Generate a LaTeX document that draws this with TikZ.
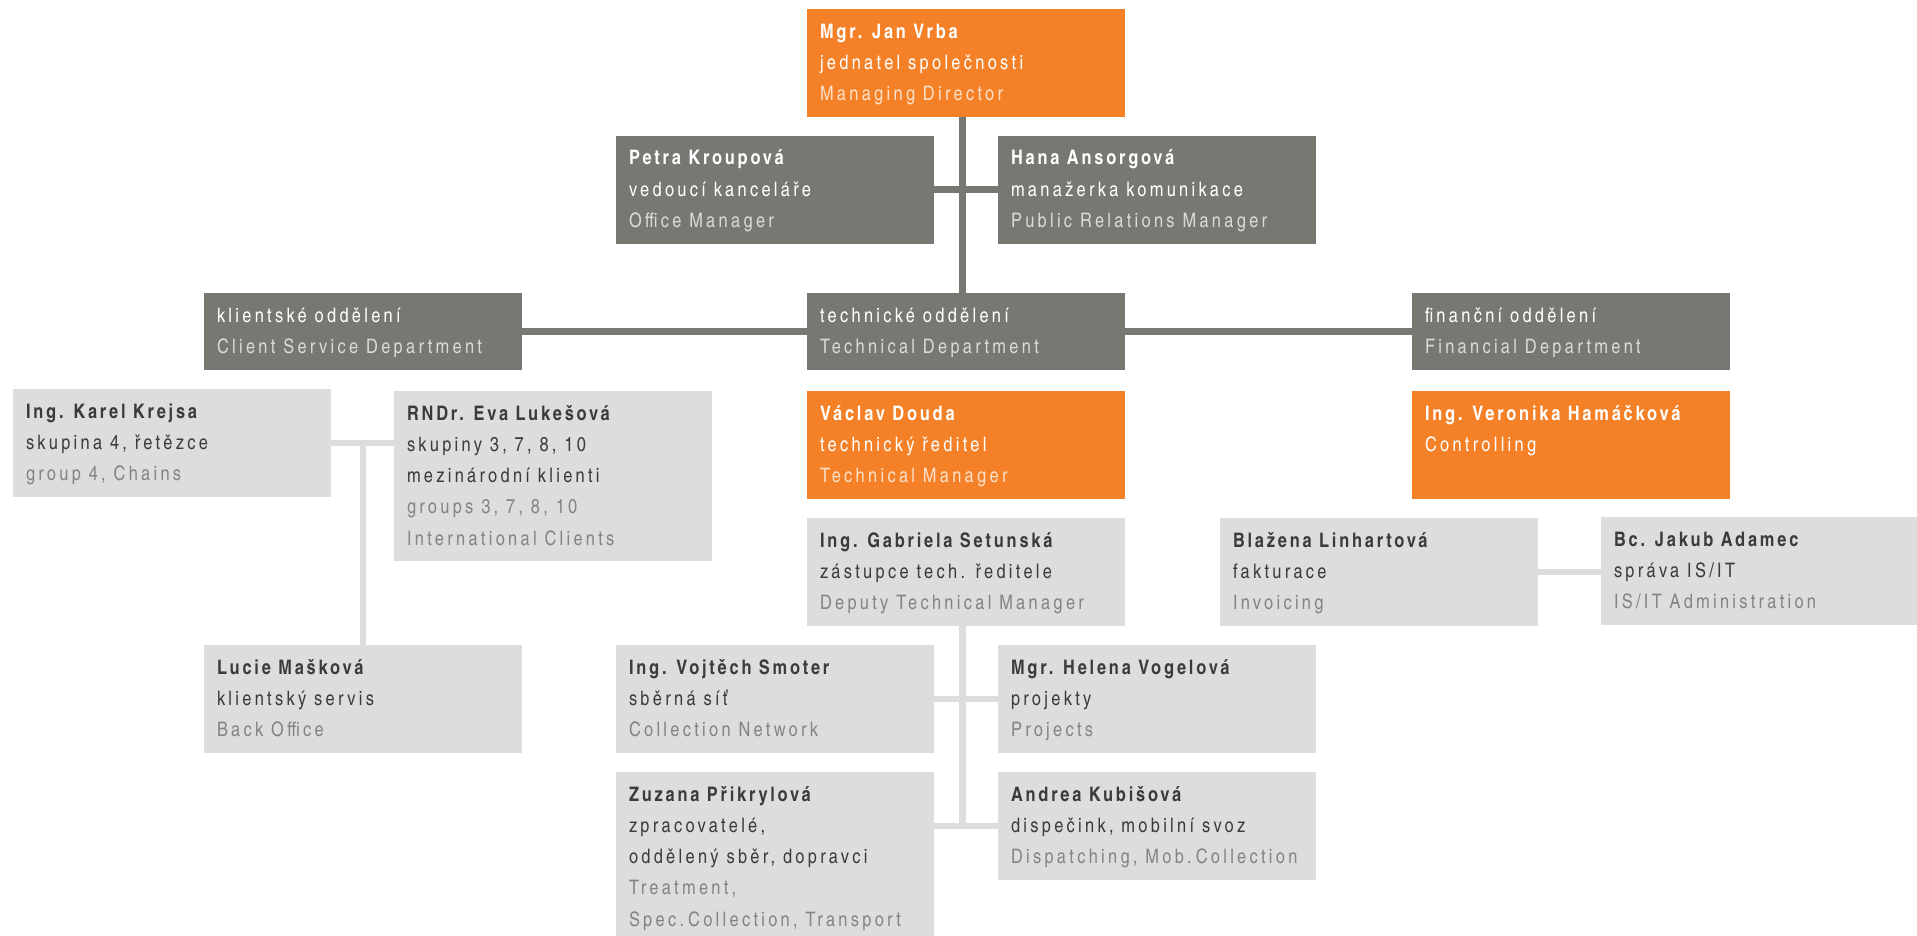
\documentclass[tikz,border=0pt]{standalone}
\usepackage{fontspec}
\setmainfont{texgyreheroscn}[Extension=.otf, UprightFont=*-regular, BoldFont=*-bold, UprightFeatures={LetterSpace=16.5}, BoldFeatures={LetterSpace=14}]
\usetikzlibrary{calc}
\definecolor{orng}{RGB}{244,129,39}
\definecolor{dgray}{RGB}{120,120,114}
\definecolor{lgray}{RGB}{220,221,223}
\definecolor{dtext}{RGB}{62,58,57}
\definecolor{engO}{RGB}{253,224,200}
\definecolor{engD}{RGB}{218,218,214}
\definecolor{engL}{RGB}{132,132,132}
\colorlet{eng}{black}
\newcommand{\cardtxt}[2]{\parbox[t][#1][t]{292pt}{\fontsize{20pt}{31.3pt}\selectfont\raggedright\rule{0pt}{29pt}#2}}
\newcommand{\nm}[1]{\mbox{\textbf{#1}}}
\newcommand{\rl}[1]{\mbox{#1}}
\newcommand{\en}[1]{\mbox{\color{eng}#1}}
\tikzset{
  card/.style={anchor=north west, inner xsep=13pt, inner ysep=0pt, outer sep=0pt},
  orangecard/.style={card, fill=orng, text=white, execute at begin node={\colorlet{eng}{engO}}},
  darkcard/.style={card, fill=dgray, text=white, execute at begin node={\colorlet{eng}{engD}}},
  lightcard/.style={card, fill=lgray, text=dtext, execute at begin node={\colorlet{eng}{engL}}},
  darklink/.style={draw=dgray, line width=6.7pt},
  lightlink/.style={draw=lgray, line width=6.7pt}
}
\begin{document}
\begin{tikzpicture}[x=1pt, y=-1pt]
\useasboundingbox (0,0) rectangle (1917,936);
\coordinate (trunk) at (962.7,0);
% top
\node[orangecard] (jan) at (807,9.3) {\cardtxt{107.4pt}{\nm{Mgr. Jan Vrba}\\\rl{jednatel společnosti}\\\en{Managing Director}}};
\node[darkcard] (petra) at (616,136) {\cardtxt{107.7pt}{\nm{Petra Kroupová}\\\rl{vedoucí kanceláře}\\\en{Office Manager}}};
\node[darkcard] (hana) at (998,136) {\cardtxt{107.7pt}{\nm{Hana Ansorgová}\\\rl{manažerka komunikace}\\\en{Public Relations Manager}}};
% departments
\node[darkcard] (client) at (204,293) {\cardtxt{76.7pt}{\rl{klientské oddělení}\\\en{Client Service Department}}};
\node[darkcard] (tech) at (807,293) {\cardtxt{76.7pt}{\rl{technické oddělení}\\\en{Technical Department}}};
\node[darkcard] (fin) at (1412,293) {\cardtxt{76.7pt}{\rl{finanční oddělení}\\\en{Financial Department}}};
% row 3
\node[lightcard] (karel) at (13,389) {\cardtxt{107.7pt}{\nm{Ing. Karel Krejsa}\\\rl{skupina 4, řetězce}\\\en{group 4, Chains}}};
\node[lightcard] (eva) at (394,391) {\cardtxt{170pt}{\nm{RNDr. Eva Lukešová}\\\rl{skupiny 3, 7, 8, 10}\\\rl{mezinárodní klienti}\\\en{groups 3, 7, 8, 10}\\\en{International Clients}}};
\node[orangecard] (vaclav) at (807,391) {\cardtxt{107.7pt}{\nm{Václav Douda}\\\rl{technický ředitel}\\\en{Technical Manager}}};
\node[orangecard] (veronika) at (1412,391) {\cardtxt{107.7pt}{\nm{Ing. Veronika Hamáčková}\\\rl{Controlling}}};
% row 4
\node[lightcard] (gabriela) at (807,518) {\cardtxt{107.5pt}{\nm{Ing. Gabriela Setunská}\\\rl{zástupce tech. ředitele}\\\en{Deputy Technical Manager}}};
\node[lightcard] (blazena) at (1220,518) {\cardtxt{107.7pt}{\nm{Blažena Linhartová}\\\rl{fakturace}\\\en{Invoicing}}};
\node[lightcard] (jakub) at (1601,517) {\cardtxt{107.7pt}{\nm{Bc. Jakub Adamec}\\\rl{správa IS/IT}\\\en{IS/IT Administration}}};
% row 5
\node[lightcard] (lucie) at (204,645) {\cardtxt{107.7pt}{\nm{Lucie Mašková}\\\rl{klientský servis}\\\en{Back Office}}};
\node[lightcard] (vojtech) at (616,645) {\cardtxt{107.7pt}{\nm{Ing. Vojtěch Smoter}\\\rl{sběrná síť}\\\en{Collection Network}}};
\node[lightcard] (helena) at (998,645) {\cardtxt{107.7pt}{\nm{Mgr. Helena Vogelová}\\\rl{projekty}\\\en{Projects}}};
% row 6
\node[lightcard] (zuzana) at (616,772) {\cardtxt{170pt}{\nm{Zuzana Přikrylová}\\\rl{zpracovatelé,}\\\rl{oddělený sběr, dopravci}\\\en{Treatment,}\\\en{Spec.\hspace{4pt}Collection, Transport}}};
\node[lightcard] (andrea) at (998,772) {\cardtxt{107.7pt}{\nm{Andrea Kubišová}\\\rl{dispečink, mobilní svoz}\\\en{Dispatching, Mob.\hspace{4pt}Collection}}};
% connectors
\draw[darklink] (jan.south -| trunk) -- (tech.north -| trunk);
\draw[darklink] (petra.east) -- (hana.west);
\draw[darklink] (client.east) -- (tech.west);
\draw[darklink] (tech.east) -- (fin.west);
\draw[lightlink] (karel.east) -- (karel.east -| eva.west);
\draw[lightlink] (lucie.north) -- (lucie.north |- karel.east);
\draw[lightlink] (blazena.east) -- (jakub.west |- blazena.east);
\draw[lightlink] (vojtech.east) -- (helena.west);
\draw[lightlink] (andrea.west -| zuzana.east) -- (andrea.west);
\draw[lightlink] (gabriela.south -| trunk) -- ($(trunk |- andrea.west)+(0,3.35)$);
\end{tikzpicture}
\end{document}
